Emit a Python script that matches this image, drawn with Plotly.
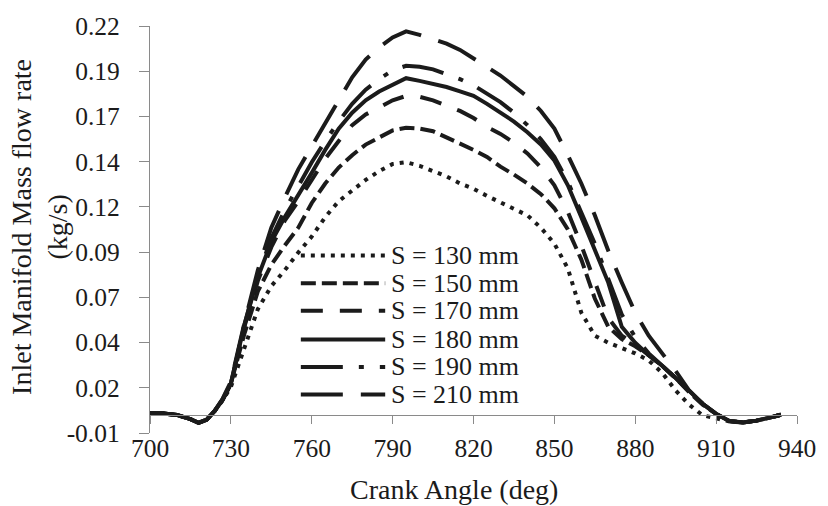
import numpy as np
import plotly.graph_objects as go

# Crank angle samples (deg)
crank_angle = [700, 705, 710, 715, 718, 721, 724, 727,
               730, 735, 740, 745, 750, 755, 760, 765, 770, 775,
               780, 785, 790, 795, 800, 805, 810, 815, 820, 825,
               830, 835, 840, 845, 850, 855, 860, 865, 870, 875,
               880, 885, 890, 895, 900, 905, 910, 915, 920, 925,
               930, 934]

# Inlet manifold mass flow rate (kg/s) for each runner length S
flow_s130 = [0.0012, 0.0010, 0.0002, -0.0022, -0.0043, -0.0025, 0.0025, 0.0085,
             0.016, 0.038, 0.060, 0.073, 0.082, 0.092, 0.101, 0.112, 0.121, 0.127,
             0.133, 0.138, 0.142, 0.143, 0.141, 0.138, 0.135, 0.131, 0.128, 0.124,
             0.1205, 0.117, 0.113, 0.106, 0.097, 0.083, 0.058, 0.045, 0.041, 0.038,
             0.035, 0.031, 0.024, 0.014, 0.006, 0.000, -0.002, -0.0035, -0.004, -0.003,
             -0.0013, 0.0003]
flow_s150 = [0.0012, 0.0010, 0.0002, -0.0022, -0.0043, -0.0025, 0.0025, 0.009,
             0.018, 0.046, 0.070, 0.085, 0.096, 0.106, 0.120, 0.131, 0.140, 0.147,
             0.153, 0.157, 0.161, 0.1625, 0.162, 0.1605, 0.157, 0.154, 0.150, 0.146,
             0.1405, 0.136, 0.131, 0.125, 0.117, 0.105, 0.088, 0.066, 0.050, 0.043,
             0.039, 0.034, 0.028, 0.021, 0.013, 0.006, 0.0008, -0.0033, -0.004, -0.003,
             -0.0013, 0.0003]
flow_s170 = [0.0012, 0.0010, 0.0002, -0.0022, -0.0043, -0.0025, 0.0025, 0.009,
             0.018, 0.050, 0.076, 0.095, 0.110, 0.121, 0.133, 0.145, 0.155, 0.164,
             0.170, 0.174, 0.178, 0.1805, 0.180, 0.178, 0.175, 0.172, 0.168, 0.163,
             0.159, 0.154, 0.148, 0.140, 0.130, 0.115, 0.096, 0.075, 0.055, 0.045,
             0.040, 0.034, 0.028, 0.021, 0.014, 0.0065, 0.0008, -0.0033, -0.004, -0.003,
             -0.0013, 0.0003]
flow_s180 = [0.0012, 0.0010, 0.0002, -0.0022, -0.0043, -0.0025, 0.0025, 0.009,
             0.018, 0.051, 0.078, 0.098, 0.112, 0.124, 0.137, 0.150, 0.162, 0.171,
             0.178, 0.183, 0.187, 0.1905, 0.189, 0.1875, 0.1855, 0.183, 0.1805, 0.176,
             0.171, 0.166, 0.160, 0.153, 0.144, 0.130, 0.112, 0.094, 0.075, 0.050,
             0.041, 0.034, 0.028, 0.021, 0.014, 0.0065, 0.0008, -0.0033, -0.004, -0.003,
             -0.0013, 0.0003]
flow_s190 = [0.0012, 0.0010, 0.0002, -0.0022, -0.0043, -0.0025, 0.0025, 0.009,
             0.018, 0.051, 0.079, 0.100, 0.116, 0.130, 0.143, 0.155, 0.166, 0.176,
             0.184, 0.190, 0.195, 0.1975, 0.197, 0.1955, 0.193, 0.190, 0.1865, 0.182,
             0.177, 0.171, 0.164, 0.156, 0.146, 0.132, 0.115, 0.097, 0.077, 0.057,
             0.044, 0.035, 0.028, 0.021, 0.014, 0.0065, 0.0008, -0.0033, -0.004, -0.003,
             -0.0013, 0.0003]
flow_s210 = [0.0012, 0.0010, 0.0002, -0.0022, -0.0043, -0.0025, 0.0025, 0.0095,
             0.019, 0.052, 0.082, 0.106, 0.123, 0.139, 0.152, 0.165, 0.179, 0.191,
             0.201, 0.208, 0.2135, 0.217, 0.215, 0.2125, 0.210, 0.2065, 0.2015, 0.197,
             0.192, 0.186, 0.180, 0.172, 0.162, 0.147, 0.131, 0.113, 0.093, 0.075,
             0.058, 0.045, 0.035, 0.025, 0.014, 0.0065, 0.0008, -0.0033, -0.004, -0.003,
             -0.0013, 0.0003]

series_names = ["S = 130 mm", "S = 150 mm", "S = 170 mm",
                "S = 180 mm", "S = 190 mm", "S = 210 mm"]
series_values = [flow_s130, flow_s150, flow_s170, flow_s180, flow_s190, flow_s210]
series_dash = ["4px,6px", "15px,6px", "22px,17px", "solid",
               "42px,16px,5px,16px", "42px,18px"]

x_ticks = list(range(700, 941, 30))
y_range = [-0.01, 0.22]
y_tick_labels = ["-0.01", "0.02", "0.04", "0.07", "0.09",
                 "0.12", "0.14", "0.17", "0.19", "0.22"]
y_tick_vals = np.linspace(y_range[0], y_range[1], len(y_tick_labels))

FONT = "Liberation Serif, Times New Roman, serif"
INK = "#1b1b1b"
AXIS = "#8a8a8a"
LINE_W = 4

W, H = 828, 506
L, R, T, B = 150, 26, 20, 73
PW, PH = W - L - R, H - T - B


def px_x(p):
    return (p - L) / PW


def px_y(p):
    return (H - B - p) / PH


fig = go.Figure()
for name, vals, dash in zip(series_names, series_values, series_dash):
    fig.add_trace(go.Scatter(
        x=crank_angle, y=vals, name=name, mode="lines",
        line=dict(color=INK, width=LINE_W, dash=dash),
        showlegend=False,
    ))

# Hand-drawn key with long line samples
shapes = []
annotations = []
row_px = [253, 281, 309, 338, 366, 394]
for name, dash, ry in zip(series_names, series_dash, row_px):
    shapes.append(dict(
        type="line", xref="paper", yref="paper",
        x0=px_x(302), x1=px_x(387), y0=px_y(ry), y1=px_y(ry),
        line=dict(color=INK, width=LINE_W, dash=dash),
    ))
    annotations.append(dict(
        xref="paper", yref="paper", x=px_x(392), y=px_y(ry),
        xanchor="left", yanchor="middle", text=name, showarrow=False,
        font=dict(family=FONT, size=26, color=INK), borderpad=0,
    ))

annotations.append(dict(
    xref="paper", yref="paper", x=px_x(38), y=px_y(224),
    xanchor="center", yanchor="middle", textangle=-90,
    text="Inlet Manifold Mass flow rate<br>(kg/s)", showarrow=False,
    font=dict(family=FONT, size=28, color=INK),
))
annotations.append(dict(
    xref="paper", yref="paper", x=px_x(456), y=px_y(490),
    xanchor="center", yanchor="middle",
    text="Crank Angle (deg)", showarrow=False,
    font=dict(family=FONT, size=28, color=INK),
))

fig.update_layout(
    width=W, height=H,
    margin=dict(l=L, r=R, t=T, b=B, pad=0),
    paper_bgcolor="white", plot_bgcolor="white",
    font=dict(family=FONT, color=INK),
    shapes=shapes, annotations=annotations,
    xaxis=dict(
        range=[700, 940], tickvals=x_ticks,
        anchor="free", position=(0 - y_range[0]) / (y_range[1] - y_range[0]),
        showline=True, linecolor=AXIS, linewidth=1.3,
        ticks="outside", ticklen=8, tickcolor=AXIS, tickwidth=1.3,
        showgrid=False, zeroline=False,
        tickfont=dict(family=FONT, size=25.5, color=INK),
        ticklabelstandoff=2,
    ),
    yaxis=dict(
        range=y_range, tickvals=y_tick_vals, ticktext=y_tick_labels,
        showline=True, linecolor=AXIS, linewidth=1.3,
        ticks="outside", ticklen=10, tickcolor=AXIS, tickwidth=1.3,
        showgrid=False, zeroline=False,
        tickfont=dict(family=FONT, size=25.5, color=INK),
        ticklabelstandoff=14,
    ),
)

fig.write_html("out.html")
